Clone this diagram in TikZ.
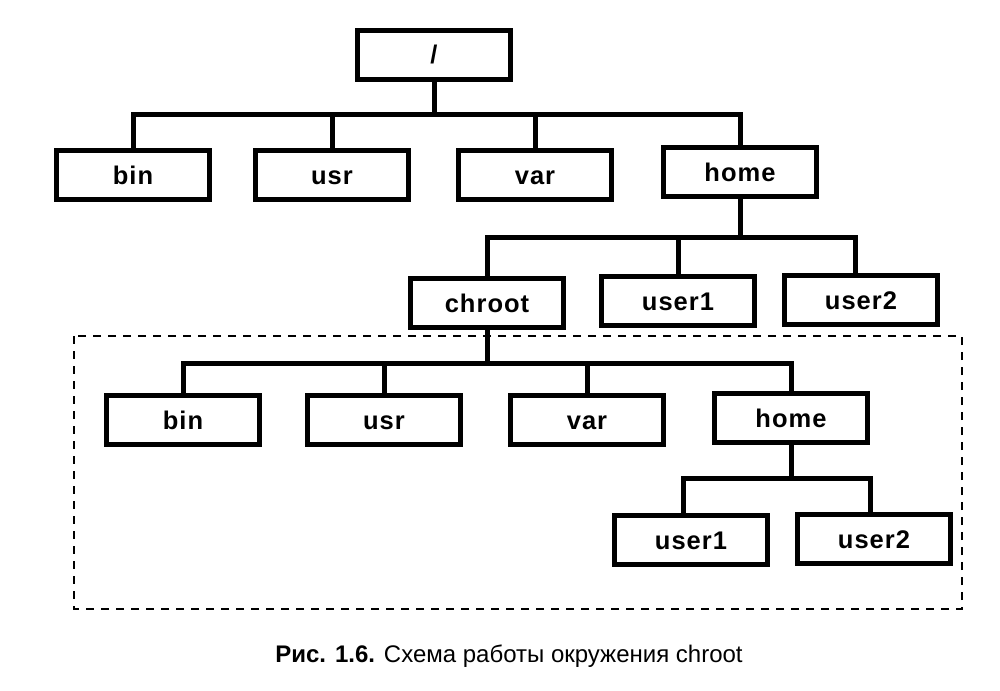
\documentclass[tikz,border=0pt]{standalone}
\usepackage{fontspec}
\setmainfont{Liberation Sans}
\newfontfamily\boxfont[LetterSpace=4]{Liberation Sans}
\begin{document}
\begin{tikzpicture}[x=1pt,y=-1pt,
  dirbox/.style={draw,line width=5.5pt,minimum width=153pt,minimum height=49pt,inner sep=0pt,text height=18pt,text depth=0pt,font=\boxfont\fontsize{25.5}{28}\selectfont\bfseries,fill=white},
  conn/.style={line width=5pt},
  chbox/.style={draw,line width=1.8pt,dash pattern=on 8pt off 7pt}]
\useasboundingbox (0,0) rectangle (1000,690);
% nodes
\node[dirbox] (root) at (434,55) {/};
\node[dirbox] (bin1) at (133,175) {bin};
\node[dirbox] (usr1) at (332,175) {usr};
\node[dirbox] (var1) at (535,175) {var};
\node[dirbox] (home1) at (740,172) {home};
\node[dirbox] (chroot) at (487,303) {chroot};
\node[dirbox] (u1a) at (678,301) {user1};
\node[dirbox] (u2a) at (861,300) {user2};
\node[dirbox] (bin2) at (183,420) {bin};
\node[dirbox] (usr2) at (384,420) {usr};
\node[dirbox] (var2) at (587,420) {var};
\node[dirbox] (home2) at (791,418) {home};
\node[dirbox] (u1b) at (691,540) {user1};
\node[dirbox] (u2b) at (874,539) {user2};
% dashed region
\draw[chbox] (74,336) rectangle (962,609);
% connectors
\coordinate (b0) at (434,115);
\draw[conn] (root.south) -- (b0);
\draw[conn] (bin1.north) |- (b0) -| (home1.north);
\draw[conn] (usr1.north) -- (usr1.north |- b0);
\draw[conn] (var1.north) -- (var1.north |- b0);
\coordinate (b1) at (740,237);
\draw[conn] (home1.south) -- (b1);
\draw[conn] (chroot.north) |- (b1) -| ([xshift=-6pt]u2a.north);
\draw[conn] (u1a.north) -- (u1a.north |- b1);
\coordinate (b2) at (487,363);
\draw[conn] (chroot.south) -- (b2);
\draw[conn] (bin2.north) |- (b2) -| (home2.north);
\draw[conn] (usr2.north) -- (usr2.north |- b2);
\draw[conn] (var2.north) -- (var2.north |- b2);
\coordinate (b3) at (791,478);
\draw[conn] (home2.south) -- (b3);
\draw[conn] ([xshift=-8pt]u1b.north) |- (b3) -| ([xshift=-4pt]u2b.north);
% caption
\node[font=\fontsize{24}{28}\selectfont] (cap) at (509,656) {\textbf{Рис. 1.6.} Схема работы окружения chroot};
\end{tikzpicture}
\end{document}
